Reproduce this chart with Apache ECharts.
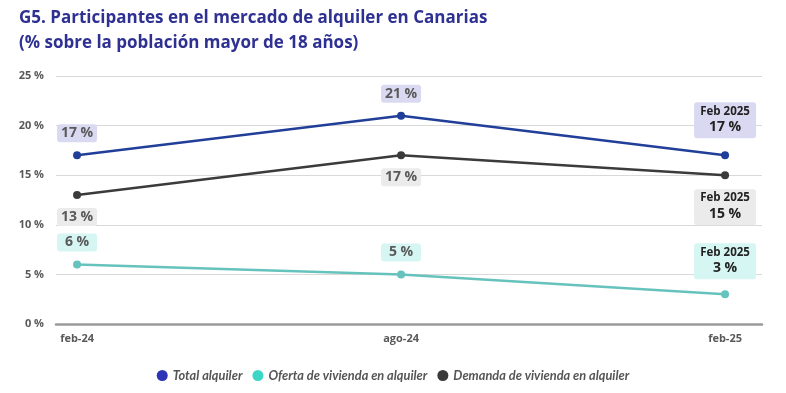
<!DOCTYPE html>
<html>
<head>
<meta charset="utf-8">
<script src="https://cdn.jsdelivr.net/npm/echarts@6/dist/echarts.min.js"></script>
<style>html,body{margin:0;padding:0;background:#fff}#c{width:786px;height:393px}</style>
</head>
<body>
<div id="c"></div>
<script>
var categories = ['feb-24', 'ago-24', 'feb-25'];
var lastLabel = 'Feb 2025';
var totalAlquiler = [17, 21, 17];
var ofertaVivienda = [6, 5, 3];
var demandaVivienda = [13, 17, 15];
var yTicks = [0, 5, 10, 15, 20, 25];
var seriesNames = ['Total alquiler', 'Oferta de vivienda en alquiler', 'Demanda de vivienda en alquiler'];

function buildData(vals, pos, bg, lastDist) {
  return vals.map(function (v, i) {
    var item = { value: [i, v] };
    if (i === vals.length - 1) {
      item.label = {
        position: pos,
        distance: lastDist,
        width: 60,
        height: 32,
        padding: [2, 1],
        backgroundColor: bg,
        formatter: function (p) { return '{a|' + lastLabel + '}\n{b|' + p.value[1] + ' %}'; }
      };
    }
    return item;
  });
}

function mkSeries(name, vals, lineColor, pos, bg, dist, lastDist) {
  return {
    name: name,
    type: 'line',
    data: buildData(vals, pos, bg, lastDist),
    symbol: 'circle',
    symbolSize: 8,
    lineStyle: { color: lineColor, width: 2.5 },
    itemStyle: { color: lineColor },
    label: {
      show: true,
      position: pos,
      distance: dist,
      width: 40,
      height: 16,
      lineHeight: 16,
      padding: [1, 0],
      align: 'center',
      backgroundColor: bg,
      borderRadius: 3,
      color: '#5a5a5a',
      fontFamily: 'Open Sans',
      fontWeight: 'bold',
      fontSize: 14,
      formatter: function (p) { return p.value[1] + ' %'; },
      rich: {
        a: { fontFamily: 'Open Sans', fontWeight: 'bold', fontSize: 11.5, color: '#222', lineHeight: 14, align: 'center' },
        b: { fontFamily: 'Open Sans', fontWeight: 'bold', fontSize: 14, color: '#222', lineHeight: 17, align: 'center' }
      }
    },
    z: 3
  };
}

var chart = echarts.init(document.getElementById('c'), null, { renderer: 'canvas' });
chart.setOption({
  animation: false,
  backgroundColor: '#ffffff',
  title: {
    text: 'G5. Participantes en el mercado de alquiler en Canarias\n(% sobre la población mayor de 18 años)',
    left: 14,
    top: 1,
    textStyle: { fontFamily: 'Open Sans', fontWeight: 'bold', fontSize: 17, lineHeight: 25, color: '#2e3192' }
  },
  legend: {
    bottom: 6,
    left: 'center',
    icon: 'circle',
    itemWidth: 11,
    itemHeight: 11,
    itemGap: 10,
    textStyle: { fontFamily: 'Lato', fontStyle: 'italic', fontWeight: 'bold', fontSize: 12.8, color: '#555' },
    data: [
      { name: seriesNames[0], itemStyle: { color: '#2b35b5' } },
      { name: seriesNames[1], itemStyle: { color: '#3cd6c6' } },
      { name: seriesNames[2], itemStyle: { color: '#3a3a3a' } }
    ]
  },
  grid: { left: 56, right: 24, top: 76, bottom: 69, containLabel: false },
  xAxis: {
    type: 'value',
    min: -0.065,
    max: 2.114,
    splitLine: { show: false },
    axisTick: { show: false },
    axisLine: { show: true, lineStyle: { color: '#9a9a9a', width: 2.5 } },
    axisLabel: {
      customValues: [0, 1, 2],
      margin: 9,
      fontFamily: 'Open Sans',
      fontWeight: 'bold',
      fontSize: 11,
      color: '#595959',
      formatter: function (v) { return categories[Math.round(v)]; }
    }
  },
  yAxis: {
    type: 'value',
    min: yTicks[0],
    max: yTicks[yTicks.length - 1],
    interval: 5,
    axisLine: { show: false },
    axisTick: { show: false },
    splitLine: { lineStyle: { color: '#d9d9d9', width: 1.2 } },
    axisLabel: {
      margin: 12,
      fontFamily: 'Open Sans',
      fontWeight: 'bold',
      fontSize: 11,
      color: '#595959',
      formatter: function (v) { return v + ' %'; }
    }
  },
  series: [
    mkSeries(seriesNames[0], totalAlquiler, '#213f99', 'top', '#d9daf2', 9, 13),
    mkSeries(seriesNames[1], ofertaVivienda, '#66c2bd', 'top', '#d5f6f3', 9, 11),
    mkSeries(seriesNames[2], demandaVivienda, '#3b3b3b', 'bottom', '#ebebeb', 9, 10)
  ]
});
</script>
</body>
</html>
